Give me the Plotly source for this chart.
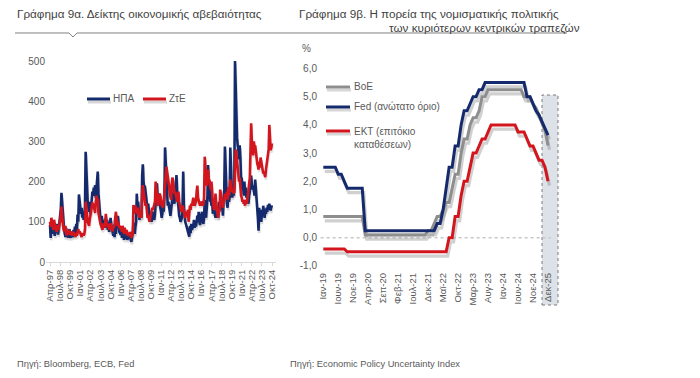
import plotly.graph_objects as go

W, H = 700, 378


def px(x):
    return x / W


def py(y):
    return 1 - y / H


# ---------------- Left panel data: monthly, Apr-1997 .. Oct-2024 ----------------
us_epu = [
    92, 60, 85, 70, 100, 78, 95, 65, 80,                          # 1997 (Apr-Dec)
    88, 72, 95, 68, 82, 90, 105, 130, 172, 145, 110, 90,          # 1998
    80, 70, 62, 85, 68, 75, 60, 70, 82, 66, 60, 74,               # 1999
    70, 62, 80, 66, 88, 72, 95, 80, 118, 100, 168, 150,           # 2000
    145, 120, 135, 110, 125, 105, 115, 140, 274, 210, 175, 150,   # 2001
    135, 125, 150, 120, 135, 160, 175, 165, 185, 170, 191, 160,   # 2002
    190, 200, 225, 170, 140, 120, 105, 100, 115, 95, 90, 105,     # 2003
    95, 85, 110, 90, 105, 80, 100, 75, 90, 110, 95, 80,           # 2004
    75, 65, 85, 62, 95, 70, 100, 85, 115, 90, 75, 72,             # 2005
    68, 80, 60, 75, 85, 55, 72, 62, 58, 78, 55, 62,               # 2006
    65, 58, 72, 55, 50, 62, 70, 98, 82, 70, 88, 100,              # 2007
    170, 130, 150, 115, 105, 125, 120, 110, 215, 243, 200, 185,   # 2008
    190, 175, 170, 140, 130, 145, 120, 110, 105, 120, 100, 125,   # 2009
    125, 110, 105, 120, 150, 165, 196, 160, 150, 170, 145, 135,   # 2010
    125, 110, 120, 140, 125, 160, 285, 240, 190, 160, 140, 150,   # 2011
    140, 125, 115, 130, 150, 165, 175, 150, 145, 170, 195, 216,   # 2012
    175, 150, 135, 115, 110, 100, 105, 110, 140, 225, 140, 105,   # 2013
    100, 95, 88, 82, 78, 70, 63, 90, 72, 95, 80, 85,              # 2014
    90, 105, 85, 95, 88, 100, 115, 100, 125, 100, 92, 110,        # 2015
    115, 125, 100, 95, 110, 155, 125, 110, 135, 160, 241, 170,    # 2016
    190, 150, 165, 140, 155, 120, 130, 150, 120, 110, 125, 115,   # 2017
    120, 110, 150, 140, 130, 160, 135, 140, 115, 155, 180, 287,   # 2018
    220, 165, 145, 135, 185, 150, 160, 285, 200, 190, 160, 175,   # 2019
    165, 190, 500, 430, 330, 310, 290, 280, 255, 290, 260, 205,   # 2020
    210, 180, 190, 165, 200, 170, 185, 160, 175, 150, 145, 165,   # 2021
    175, 210, 215, 195, 180, 190, 175, 165, 205, 185, 170, 145,   # 2022
    110, 78, 135, 105, 130, 100, 120, 115, 140, 125, 110, 130,    # 2023
    120, 135, 125, 142, 130, 145, 135, 128, 140, 135,             # 2024 (Jan-Oct)
]

ez_epu = [
    100, 88, 110, 95, 85, 80, 105, 92, 85,                        # 1997 (Apr-Dec)
    82, 75, 92, 85, 80, 95, 100, 120, 138, 115, 92, 82,           # 1998
    76, 82, 90, 72, 66, 75, 70, 80, 72, 68, 76, 70,               # 1999
    66, 70, 75, 68, 72, 62, 70, 65, 76, 82, 72, 76,               # 2000
    72, 66, 62, 72, 68, 66, 70, 82, 150, 130, 112, 100,           # 2001
    96, 90, 105, 115, 130, 140, 148, 135, 145, 132, 122, 150,     # 2002
    165, 150, 158, 122, 110, 100, 95, 90, 86, 80, 96, 90,         # 2003
    86, 95, 120, 100, 90, 86, 95, 80, 90, 96, 86, 80,             # 2004
    76, 90, 85, 96, 110, 125, 105, 90, 100, 95, 85, 90,           # 2005
    80, 85, 75, 90, 80, 70, 85, 75, 70, 80, 66, 72,               # 2006
    70, 65, 75, 68, 60, 70, 66, 142, 120, 130, 140, 125,          # 2007
    130, 120, 135, 120, 110, 125, 118, 110, 170, 191, 175, 160,   # 2008
    150, 140, 145, 130, 110, 115, 105, 100, 110, 120, 125, 135,   # 2009
    130, 140, 145, 150, 200, 175, 160, 145, 140, 150, 170, 165,   # 2010
    150, 140, 145, 135, 150, 175, 185, 215, 237, 225, 215, 200,   # 2011
    190, 170, 160, 155, 195, 210, 200, 180, 170, 175, 165, 160,   # 2012
    150, 165, 175, 150, 140, 130, 125, 135, 140, 135, 120, 115,   # 2013
    110, 115, 125, 120, 130, 100, 135, 140, 130, 145, 140, 150,   # 2014
    160, 150, 140, 145, 150, 175, 190, 160, 155, 145, 140, 150,   # 2015
    145, 150, 140, 145, 160, 262, 225, 195, 190, 210, 230, 200,   # 2016
    205, 190, 180, 200, 160, 150, 140, 130, 135, 170, 145, 130,   # 2017
    120, 110, 130, 125, 180, 165, 150, 140, 135, 155, 150, 170,   # 2018
    165, 160, 175, 155, 185, 165, 180, 205, 190, 185, 175, 180,   # 2019
    170, 175, 265, 280, 270, 250, 240, 225, 200, 210, 180, 165,   # 2020
    160, 150, 155, 145, 150, 140, 155, 145, 150, 165, 180, 190,   # 2021
    210, 275, 345, 300, 280, 265, 300, 285, 290, 270, 260, 245,   # 2022
    240, 230, 250, 235, 260, 250, 240, 230, 220, 225, 215, 211,   # 2023
    230, 240, 250, 260, 280, 341, 300, 278, 285, 295,             # 2024 (Jan-Oct)
]

left_tick_labels = ["Απρ-97", "Ιουλ-98", "Οκτ-99", "Ιαν-01", "Απρ-02", "Ιουλ-03",
                    "Οκτ-04", "Ιαν-06", "Απρ-07", "Ιουλ-08", "Οκτ-09", "Ιαν-11",
                    "Απρ-12", "Ιουλ-13", "Οκτ-14", "Ιαν-16", "Απρ-17", "Ιουλ-18",
                    "Οκτ-19", "Ιαν-21", "Απρ-22", "Ιουλ-23", "Οκτ-24"]
left_y_ticks = [0, 100, 200, 300, 400, 500]

# ---------------- Right panel data: monthly Jan-2019 .. Mar-2025, then Dec-2025 ----------------
fed_upper = [
    2.5, 2.5, 2.5, 2.5, 2.5, 2.25, 2.25, 2.0, 1.75, 1.75, 1.75, 1.75,          # 2019
    1.75, 1.75, 0.25, 0.25, 0.25, 0.25, 0.25, 0.25, 0.25, 0.25, 0.25, 0.25,    # 2020
    0.25, 0.25, 0.25, 0.25, 0.25, 0.25, 0.25, 0.25, 0.25, 0.25, 0.25, 0.25,    # 2021
    0.25, 0.25, 0.5, 0.5, 1.0, 1.75, 2.5, 2.5, 3.25, 3.25, 4.0, 4.5,           # 2022
    4.5, 4.75, 5.0, 5.0, 5.25, 5.25, 5.5, 5.5, 5.5, 5.5, 5.5, 5.5,             # 2023
    5.5, 5.5, 5.5, 5.5, 5.5, 5.5, 5.5, 5.5, 5.0, 5.0, 4.75, 4.5,               # 2024
    4.35, 4.1, 3.9,                                                            # Jan-Mar 2025
    3.64,                                                                      # Dec 2025
]
boe_rate = [
    0.75, 0.75, 0.75, 0.75, 0.75, 0.75, 0.75, 0.75, 0.75, 0.75, 0.75, 0.75,    # 2019
    0.75, 0.75, 0.1, 0.1, 0.1, 0.1, 0.1, 0.1, 0.1, 0.1, 0.1, 0.1,              # 2020
    0.1, 0.1, 0.1, 0.1, 0.1, 0.1, 0.1, 0.1, 0.1, 0.1, 0.1, 0.25,               # 2021
    0.25, 0.5, 0.75, 0.75, 1.0, 1.25, 1.25, 1.75, 2.25, 2.25, 3.0, 3.5,        # 2022
    3.5, 4.0, 4.25, 4.25, 4.5, 5.0, 5.0, 5.25, 5.25, 5.25, 5.25, 5.25,         # 2023
    5.25, 5.25, 5.25, 5.25, 5.25, 5.25, 5.25, 5.0, 5.0, 5.0, 4.75, 4.6,        # 2024
    4.35, 4.05, 3.8,                                                           # Jan-Mar 2025
    3.27,                                                                      # Dec 2025
]
ecb_deposit = [
    -0.4, -0.4, -0.4, -0.4, -0.4, -0.4, -0.4, -0.4, -0.5, -0.5, -0.5, -0.5,    # 2019
    -0.5, -0.5, -0.5, -0.5, -0.5, -0.5, -0.5, -0.5, -0.5, -0.5, -0.5, -0.5,    # 2020
    -0.5, -0.5, -0.5, -0.5, -0.5, -0.5, -0.5, -0.5, -0.5, -0.5, -0.5, -0.5,    # 2021
    -0.5, -0.5, -0.5, -0.5, -0.5, -0.5, 0.0, 0.0, 0.75, 0.75, 1.5, 2.0,        # 2022
    2.0, 2.5, 3.0, 3.0, 3.25, 3.5, 3.5, 3.75, 4.0, 4.0, 4.0, 4.0,              # 2023
    4.0, 4.0, 4.0, 4.0, 4.0, 3.75, 3.75, 3.75, 3.5, 3.25, 3.25, 3.0,           # 2024
    2.75, 2.75, 2.5,                                                           # Jan-Mar 2025
    2.0,                                                                       # Dec 2025
]

right_tick_labels = ["Ιαν-19", "Ιουν-19", "Νοε-19", "Απρ-20", "Σεπ-20", "Φεβ-21",
                     "Ιουλ-21", "Δεκ-21", "Μαϊ-22", "Οκτ-22", "Μαρ-23", "Αυγ-23",
                     "Ιαν-24", "Ιουν-24", "Νοε-24", "Δεκ-25"]
right_y_ticks = [-1, 0, 1, 2, 3, 4, 5, 6]
right_y_labels = ["-1,0", "0,0", "1,0", "2,0", "3,0", "4,0", "5,0", "6,0"]

# ---------------- styling ----------------
NAVY = "#142a6c"
RED = "#d3151d"
GREY = "#8e8e8e"
TXT = "#595959"
TITLE = "#3f3f3f"
FONT = "Liberation Sans, Arial, sans-serif"
NARROW = "Liberation Sans Narrow, Liberation Sans, Arial, sans-serif"

fig = go.Figure()

# left panel
x_left = list(range(len(us_epu)))
fig.add_trace(go.Scatter(x=[v + 1 for v in x_left], y=[v - 6 for v in us_epu], mode="lines",
                         line=dict(color="rgba(90,90,90,0.22)", width=2.6),
                         xaxis="x", yaxis="y", hoverinfo="skip", showlegend=False))
fig.add_trace(go.Scatter(x=x_left, y=us_epu, mode="lines", name="ΗΠΑ",
                         line=dict(color=NAVY, width=2.6), xaxis="x", yaxis="y", showlegend=False))
fig.add_trace(go.Scatter(x=[v + 1 for v in x_left], y=[v - 6 for v in ez_epu], mode="lines",
                         line=dict(color="rgba(90,90,90,0.18)", width=2.6),
                         xaxis="x", yaxis="y", hoverinfo="skip", showlegend=False))
fig.add_trace(go.Scatter(x=x_left, y=ez_epu, mode="lines", name="ΖτΕ",
                         line=dict(color=RED, width=2.6), xaxis="x", yaxis="y", showlegend=False))

# right panel
x_right = list(range(len(fed_upper)))
for series in (boe_rate, fed_upper, ecb_deposit):
    fig.add_trace(go.Scatter(x=[v + 0.5 for v in x_right], y=[v - 0.15 for v in series], mode="lines",
                             line=dict(color="rgba(120,120,120,0.35)", width=3.2),
                             xaxis="x2", yaxis="y2", hoverinfo="skip", showlegend=False))
for series, col, name in [(boe_rate, GREY, "BoE"), (fed_upper, NAVY, "Fed"), (ecb_deposit, RED, "ΕΚΤ")]:
    fig.add_trace(go.Scatter(x=x_right, y=series, mode="lines", name=name,
                             line=dict(color=col, width=3), xaxis="x2", yaxis="y2", showlegend=False))

# ---------------- axes ----------------
L_X0, L_X1 = 46, 276
L_Y0, L_Y1 = 262, 53
l_scale = (272 - 50) / 330.0
l_yscale = 0.402
R_X0, R_X1 = 318, 560
R_Y0, R_Y1 = 270, 60
r_scale = 2.996
r_zero = 237.7
r_yscale = 28.2

layout_axes = dict(
    xaxis=dict(domain=[px(L_X0), px(L_X1)],
               range=[(L_X0 - 50) / l_scale, (L_X1 - 50) / l_scale],
               anchor="y", tickmode="array",
               tickvals=[i * 15 for i in range(len(left_tick_labels))],
               ticktext=left_tick_labels, tickangle=-90,
               tickfont=dict(family=NARROW, size=9.5, color=TXT),
               showline=True, linecolor="#d9d9d9", linewidth=1,
               ticks="outside", ticklen=3, tickcolor="#d9d9d9",
               showgrid=False, zeroline=False, automargin=False),
    yaxis=dict(domain=[py(L_Y0), py(L_Y1)],
               range=[0, (L_Y0 - L_Y1) / l_yscale], anchor="x",
               tickmode="array", tickvals=left_y_ticks,
               tickfont=dict(family=FONT, size=10, color=TXT),
               showgrid=False, zeroline=False, showline=False, ticks="",
               automargin=False),
    xaxis2=dict(domain=[px(R_X0), px(R_X1)],
                range=[(R_X0 - 323.3) / r_scale, (R_X1 - 323.3) / r_scale],
                anchor="y2", tickmode="array",
                tickvals=[i * 5 for i in range(len(right_tick_labels))],
                ticktext=right_tick_labels, tickangle=-90,
                tickfont=dict(family=NARROW, size=9.5, color=TXT),
                showline=False, ticks="", showgrid=False, zeroline=False,
                automargin=False),
    yaxis2=dict(domain=[py(R_Y0), py(R_Y1)],
                range=[(r_zero - R_Y0) / r_yscale, (r_zero - R_Y1) / r_yscale],
                anchor="x2", tickmode="array", tickvals=right_y_ticks,
                ticktext=right_y_labels,
                tickfont=dict(family=FONT, size=10, color=TXT),
                showgrid=False, zeroline=False, showline=False, ticks="",
                automargin=False),
)

shapes = []
pts = [(15, 33), (69, 33), (73, 37), (77, 33), (567, 33)]
path = "M " + " L ".join(f"{px(a):.5f},{py(b):.5f}" for a, b in pts)
shapes.append(dict(type="path", xref="paper", yref="paper", path=path,
                   line=dict(color="#808080", width=1)))
shapes.append(dict(type="rect", xref="x2", yref="paper",
                   x0=(542 - 323.3) / r_scale, x1=(558 - 323.3) / r_scale,
                   y0=py(305), y1=py(95), layer="below",
                   fillcolor="#dde1e8", line=dict(color="#7a7a7a", width=1, dash="dot")))
shapes.append(dict(type="line", xref="x2", yref="y2", x0=-0.9, x1=75.9, y0=0, y1=0,
                   layer="below", line=dict(color="#c8c8c8", width=1.5, dash="dot")))


def legend_line(x0, x1, y, color, width=3):
    shapes.append(dict(type="line", xref="paper", yref="paper", x0=px(x0 + 1), x1=px(x1 + 1),
                       y0=py(y + 3), y1=py(y + 3), line=dict(color="rgba(120,120,120,0.3)", width=width)))
    shapes.append(dict(type="line", xref="paper", yref="paper", x0=px(x0), x1=px(x1),
                       y0=py(y), y1=py(y), line=dict(color=color, width=width)))


legend_line(87, 110, 99, NAVY)
legend_line(143, 166, 99, RED)
legend_line(326, 350, 87, GREY)
legend_line(326, 350, 107, NAVY)
legend_line(326, 350, 131, RED)

annotations = []


def text(x, y, s, size=10, color=TXT, xanchor="left", family=FONT, yanchor="middle"):
    annotations.append(dict(x=px(x), y=py(y), xref="paper", yref="paper", text=s,
                            showarrow=False, xanchor=xanchor, yanchor=yanchor, align="left",
                            font=dict(family=family, size=size, color=color)))


text(15, 14, "Γράφημα 9α. Δείκτης οικονομικής αβεβαιότητας", size=11.7, color=TITLE)
text(297, 14, "Γράφημα 9β. Η πορεία της νομισματικής πολιτικής", size=11.7, color=TITLE)
text(582, 28, "των κυριότερων κεντρικών τραπεζών", size=11.7, color=TITLE, xanchor="right")
text(111, 99, "ΗΠΑ")
text(167, 99, "ΖτΕ")
text(352, 87, "BoE")
text(352, 107, "Fed (ανώτατο όριο)")
text(352, 124, "ΕΚΤ (επιτόκιο<br>καταθέσεων)", yanchor="top")
text(300, 48, "%")
text(15, 364, "Πηγή: Bloomberg, ECB, Fed", size=9.3, family=NARROW)
text(288, 364, "Πηγή: Economic Policy Uncertainty Index", size=9.3, family=NARROW)

fig.update_layout(
    width=W, height=H, margin=dict(l=0, r=0, t=0, b=0, autoexpand=False),
    paper_bgcolor="white", plot_bgcolor="rgba(0,0,0,0)",
    showlegend=False, shapes=shapes, annotations=annotations,
    font=dict(family=FONT, color=TXT),
    **layout_axes,
)

fig.write_html("out.html", config={"displayModeBar": False},
               post_script="document.body.style.margin='0';document.body.style.padding='0';")
